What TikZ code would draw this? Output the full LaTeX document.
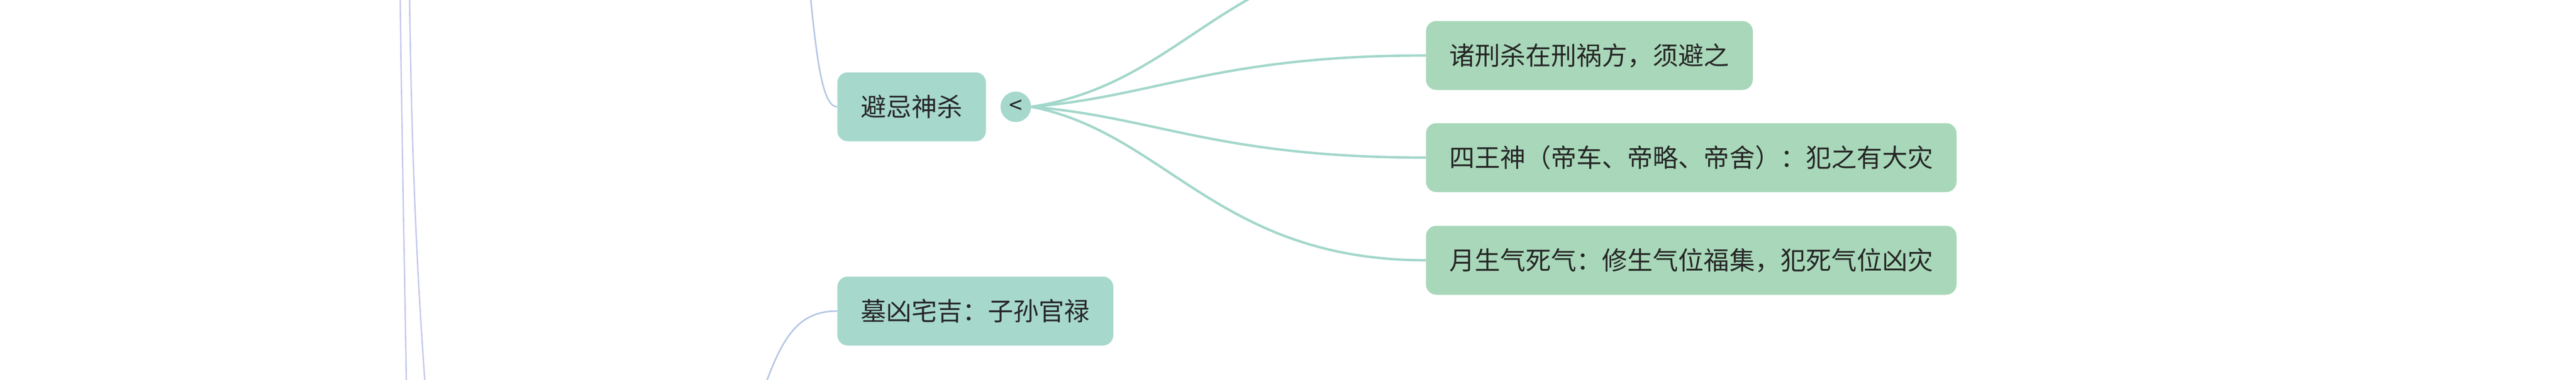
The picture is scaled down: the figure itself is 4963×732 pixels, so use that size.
\documentclass[tikz,border=0pt]{standalone}
\usepackage{fontspec}
\setmainfont{Noto Sans CJK SC}
\usepackage{xcolor}
\usepackage{tikz}
\usetikzlibrary{calc,shapes}
\usetikzlibrary{positioning}

\definecolor{topicTeal}{RGB}{166,216,204}
\definecolor{leafGreen}{RGB}{168,216,185}
\definecolor{lineTeal}{RGB}{163,215,203}
\definecolor{lineBlue}{RGB}{182,199,229}
\definecolor{lineLilac}{RGB}{197,201,236}
\definecolor{inkGrey}{RGB}{38,38,38}

\tikzset{
  topicbox/.style={fill=topicTeal, rounded corners=15pt, minimum height=99.75pt, inner xsep=33.75pt, anchor=west, text=inkGrey, font=\fontsize{36.8}{44}\selectfont},
  leafbox/.style={topicbox, fill=leafGreen},
  toggledot/.style={circle, fill=topicTeal, minimum size=44pt, inner sep=0pt, text=inkGrey, font=\fontsize{34}{36}\selectfont},
  tealline/.style={draw=lineTeal, line width=3.5pt},
  blueline/.style={draw=lineBlue, line width=2.2pt},
  lilacline/.style={draw=lineLilac, line width=2pt}
}

\begin{document}
\begin{tikzpicture}[x=0.75pt,y=0.75pt,yscale=-1,xscale=1]
\useasboundingbox (0,0) rectangle (4963,732);
\clip (0,0) rectangle (4963,732);

%Shape: Rounded Rect
\node[topicbox] (bijiNode) at (1613,206) {避忌神杀};
%Shape: Circle
\node[toggledot] (bijiToggle) at (1957,206) {<};
%Shape: Rounded Rect
\node[leafbox] (xingNode) at (2747,107) {诸刑杀在刑祸方，须避之};
%Shape: Rounded Rect
\node[leafbox] (siwangNode) at (2747,304) {四王神（帝车、帝略、帝舍）：犯之有大灾};
%Shape: Rounded Rect
\node[leafbox] (yueqiNode) at (2747,502) {月生气死气：修生气位福集，犯死气位凶灾};
%Shape: Rounded Rect
\node[topicbox] (muNode) at (1613,600) {墓凶宅吉：子孙官禄};

\coordinate (upParent) at (1556,-60);
\coordinate (downParent) at (1455,800);
\coordinate (hiddenLeaf) at (2747,-91);
\coordinate (trunkLa) at (771,-10);
\coordinate (trunkLb) at (783,742);
\coordinate (trunkRa) at (789,-10);
\coordinate (trunkRb) at (819,742);

%Straight Lines
\draw[lilacline] (trunkLa) .. controls (774,250) and (779,500) .. (trunkLb);
%Straight Lines
\draw[lilacline] (trunkRa) .. controls (793,300) and (803,520) .. (trunkRb);

%Curve Lines
\draw[blueline] (upParent) .. controls (1572,100) and (1582,206) .. (bijiNode.west);
%Curve Lines
\draw[blueline] (downParent) .. controls (1500,660) and (1530,600) .. (muNode.west);

%Curve Lines
\draw[tealline] (bijiToggle.east) .. controls ($(bijiToggle.east)+(300,-45)$) and ($(hiddenLeaf)+(-380,0)$) .. (hiddenLeaf);
%Curve Lines
\draw[tealline] (bijiToggle.east) .. controls ($(bijiToggle.east)+(240,-20)$) and ($(xingNode.west)+(-400,0)$) .. (xingNode.west);
%Curve Lines
\draw[tealline] (bijiToggle.east) .. controls ($(bijiToggle.east)+(240,20)$) and ($(siwangNode.west)+(-400,0)$) .. (siwangNode.west);
%Curve Lines
\draw[tealline] (bijiToggle.east) .. controls ($(bijiToggle.east)+(260,50)$) and ($(yueqiNode.west)+(-400,0)$) .. (yueqiNode.west);

\end{tikzpicture}
\end{document}
